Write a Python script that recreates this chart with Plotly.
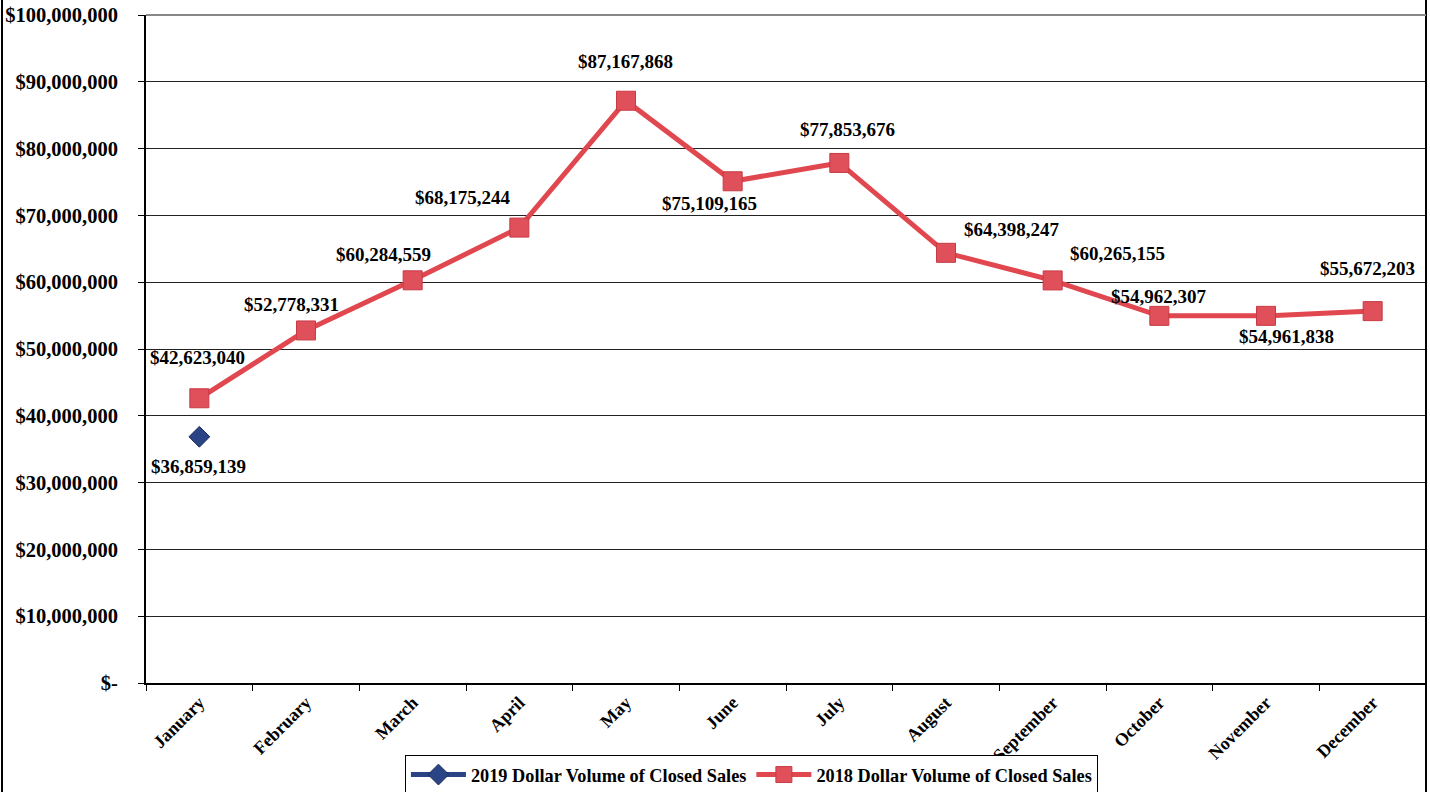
import plotly.graph_objects as go

months = ["January", "February", "March", "April", "May", "June", "July",
          "August", "September", "October", "November", "December"]
sales_2018 = [42623040, 52778331, 60284559, 68175244, 87167868, 75109165,
              77853676, 64398247, 60265155, 54962307, 54961838, 55672203]
months_2019 = ["January"]
sales_2019 = [36859139]

y_ticks = [0, 10e6, 20e6, 30e6, 40e6, 50e6, 60e6, 70e6, 80e6, 90e6, 100e6]
y_ticktext = ["$-"] + ["${:,.0f}".format(v) for v in y_ticks[1:]]

# label offsets (px) for 2018 data labels
lab_dx = [-2, -15, -29, -56, -1, -23, 8, 66, 65, 0, 20, -5]
lab_dy = [41, 26, 26, 30, 39, -22, 33, 23, 27, 19, -21, 43]

FONT = "Liberation Serif, Times New Roman, serif"
RED = "#e0474f"
BLUE = "#2b4485"
LBL = dict(family=FONT, size=19, color="black", weight="bold")

fig = go.Figure()
fig.add_trace(go.Scatter(
    x=months_2019, y=sales_2019, mode="lines+markers",
    name="2019 Dollar Volume of Closed Sales",
    line=dict(color=BLUE, width=5),
    marker=dict(symbol="diamond", size=16, color=BLUE,
                line=dict(color="#1a2a5a", width=1)),
))
fig.add_trace(go.Scatter(
    x=months, y=sales_2018, mode="lines+markers",
    name="2018 Dollar Volume of Closed Sales",
    line=dict(color=RED, width=5),
    marker=dict(symbol="square", size=19, color="#e0505a",
                line=dict(color="#c83a44", width=1)),
))

annotations = []
for m, v, dx, dy in zip(months, sales_2018, lab_dx, lab_dy):
    annotations.append(dict(x=m, y=v, xref="x", yref="y",
                            text="${:,.0f}".format(v), showarrow=False,
                            xshift=dx, yshift=dy, font=LBL))
for m, v in zip(months_2019, sales_2019):
    annotations.append(dict(x=m, y=v, xref="x", yref="y",
                            text="${:,.0f}".format(v), showarrow=False,
                            xshift=-1, yshift=-30, font=LBL))

fig.update_layout(
    width=1430, height=792,
    margin=dict(l=146, r=4, t=15, b=109, autoexpand=False),
    paper_bgcolor="white", plot_bgcolor="white",
    font=dict(family=FONT, color="black", size=16, weight="bold"),
    annotations=annotations,
    showlegend=True,
    legend=dict(orientation="h", x=0.473, xanchor="center", y=-0.108, yanchor="top",
                bordercolor="black", borderwidth=1, bgcolor="white",
                font=dict(family=FONT, size=18.3, color="black", weight="bold"),
                itemwidth=55, tracegroupgap=0),
    xaxis=dict(
        type="category", categoryorder="array", categoryarray=months,
        range=[-0.5, 11.5], tickson="boundaries", ticks="outside", ticklen=6,
        tickcolor="black", showgrid=False, tickangle=-45, automargin=False,
        showline=True, linecolor="black", linewidth=2,
        tickfont=dict(family=FONT, size=18, color="black", weight="bold"),
    ),
    yaxis=dict(
        range=[0, 100e6], tickvals=y_ticks, ticktext=y_ticktext,
        ticks="outside", ticklen=6, tickcolor="black", automargin=False,
        showgrid=True, gridcolor="#222222", gridwidth=1,
        showline=True, linecolor="black", linewidth=2,
        ticklabelstandoff=16, zeroline=False, ticklabeloverflow="allow",
        tickfont=dict(family=FONT, size=20.5, color="black", weight="bold"),
    ),
    shapes=[
        dict(type="line", xref="paper", yref="paper", x0=-0.1125, x1=-0.1125,
             y0=-0.17, y1=1.03, line=dict(color="black", width=2)),
        dict(type="line", xref="paper", yref="paper", x0=1.0, x1=1.0,
             y0=-0.17, y1=1.03, line=dict(color="black", width=2)),
        dict(type="line", xref="paper", yref="paper", x0=0, x1=1.0,
             y0=1.0, y1=1.0, line=dict(color="#888888", width=2)),
    ],
)

fig.write_html("out.html",
               config={"displayModeBar": False},
               post_script="document.body.style.margin='0';document.body.style.overflow='hidden';")
